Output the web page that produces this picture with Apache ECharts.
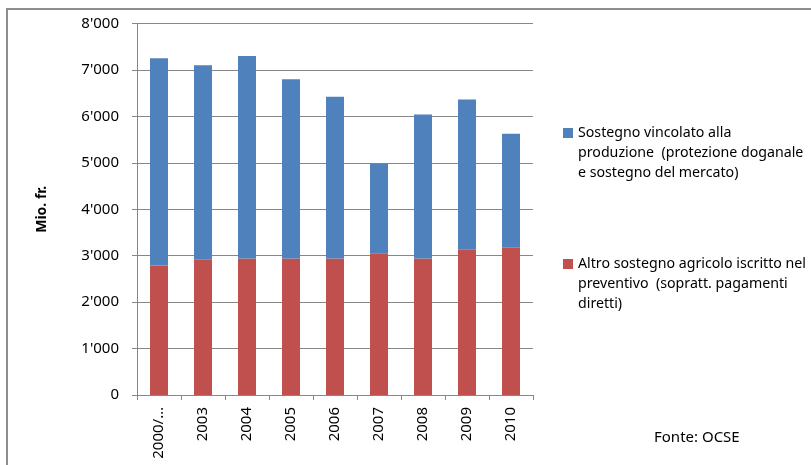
<!DOCTYPE html>
<html>
<head>
<meta charset="utf-8">
<script src="https://cdn.jsdelivr.net/npm/echarts@6/dist/echarts.min.js"></script>
<style>html,body{margin:0;padding:0;background:#fff}#c{width:811px;height:465px}</style>
</head>
<body>
<div id="c"></div>
<script>
const categories = ['2000/…', '2003', '2004', '2005', '2006', '2007', '2008', '2009', '2010'];
const otherSupport = [2790, 2910, 2940, 2940, 2940, 3050, 2940, 3140, 3170];
const productionSupport = [4460, 4190, 4360, 3860, 3480, 1930, 3100, 3225, 2455];
const seriesNames = [
  'Sostegno vincolato alla\nproduzione  (protezione doganale\ne sostegno del mercato)',
  'Altro sostegno agricolo iscritto nel\npreventivo  (sopratt. pagamenti\ndiretti)'
];
const yAxisTitle = 'Mio. fr.';
const sourceNote = 'Fonte: OCSE';

const FONT = 'Noto Sans';
const chart = echarts.init(document.getElementById('c'), null, {renderer: 'canvas'});
chart.setOption({
  animation: false,
  backgroundColor: '#fff',
  textStyle: {fontFamily: FONT},
  title: {
    text: sourceNote, left: 654, top: 430, padding: 0,
    textStyle: {fontFamily: FONT, fontSize: 15, fontWeight: 'normal', color: '#000'}
  },
  graphic: [{
    type: 'rect', shape: {x: 7, y: 9, width: 900, height: 500},
    style: {fill: 'none', stroke: '#8e8e8e', lineWidth: 2}, silent: true
  }],
  legend: {
    orient: 'vertical', left: 563, top: 83, padding: 0,
    itemWidth: 10, itemHeight: 10, itemGap: 31,
    icon: 'rect',
    data: [seriesNames[0], seriesNames[1]],
    formatter: name => '\n\n' + name,
    textStyle: {fontFamily: FONT, fontSize: 14.2, lineHeight: 20, color: '#000'}
  },
  grid: {left: 137, right: 278, top: 23.5, bottom: 70, containLabel: false},
  xAxis: {
    type: 'category', data: categories,
    axisLine: {lineStyle: {color: '#878787', width: 1}},
    axisTick: {show: true, length: 5, lineStyle: {color: '#878787'}},
    axisLabel: {rotate: 90, margin: 12, fontFamily: FONT, fontSize: 15, color: '#000'}
  },
  yAxis: {
    type: 'value', min: 0, max: 8000, interval: 1000,
    name: yAxisTitle, nameLocation: 'middle', nameGap: 88,
    nameTextStyle: {fontFamily: FONT, fontSize: 14, fontWeight: 'bold', color: '#000'},
    axisLine: {show: true, lineStyle: {color: '#878787', width: 1}},
    axisTick: {show: true, length: 5, lineStyle: {color: '#878787'}},
    splitLine: {lineStyle: {color: '#878787', width: 1}},
    axisLabel: {
      margin: 18, fontFamily: FONT, fontSize: 15, color: '#000',
      formatter: v => v === 0 ? '0' : String(v).replace(/\B(?=(\d{3})+(?!\d))/g, "'")
    }
  },
  series: [
    {
      name: seriesNames[1], type: 'bar', stack: 'total', barWidth: 18,
      data: otherSupport, itemStyle: {color: '#C0504D'}
    },
    {
      name: seriesNames[0], type: 'bar', stack: 'total', barWidth: 18,
      data: productionSupport, itemStyle: {color: '#4F81BD'}
    }
  ]
});
</script>
</body>
</html>
